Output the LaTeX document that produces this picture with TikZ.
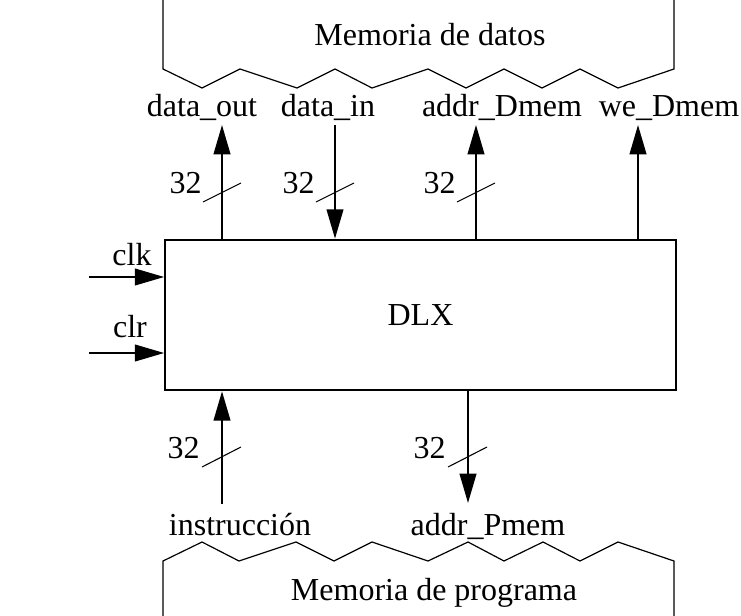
\documentclass[tikz,border=0pt]{standalone}
\usepackage{fontspec}
\setmainfont{Liberation Serif}
\usetikzlibrary{arrows.meta}

\begin{document}
\begin{tikzpicture}[x=0.75pt,y=-0.75pt,>={Triangle[length=22pt,width=12.5pt]},font=\fontsize{24}{28}\selectfont]
		\tikzstyle{wire}=[->,line width=1.5pt]
		\tikzstyle{busmark}=[line width=0.8pt]
		\tikzstyle{memline}=[line width=0.9pt,line join=miter]
		\tikzstyle{sigtext}=[inner sep=0pt,anchor=base]
		\tikzstyle{buswidth}=[inner sep=0pt,anchor=base east]
		
		\useasboundingbox (0,0) rectangle (741,616);
		
		% Draw the processor
		\node[draw,line width=1.5pt,minimum width=383pt,minimum height=113pt,inner sep=0pt] (dlx) at (420.5,315) {DLX};
		
		% Draw the data memory
		\draw[memline] (163,0) -- (163,69)
		\foreach \x/\y in {202/88,240/69,297/88,335/69,372/88,428/69,466/88,504/69,542/88,580/69,618/88} { -- (\x,\y) }
		-- (674,69) -- (674,0);
		\node[sigtext] (dmem) at (430,46) {Memoria de datos};
		
		% Draw the program memory
		\draw[memline] (163,616) -- (163,561)
		\foreach \x/\y in {202/542,239/561,296/542,334/561,372/542,428/561,468/542,504/561,543/542,580/561,618/542} { -- (\x,\y) }
		-- (674,561) -- (674,616);
		\node[sigtext] (pmem) at (434,600) {Memoria de programa};
		
		% Data memory signals
		\foreach \name/\txt/\x in {dout/data\_out/202,din/data\_in/328,adm/addr\_Dmem/502,we/we\_Dmem/669}
		\node[sigtext] (\name) at (\x,117) {\txt};
		\foreach \name/\x in {dout/222,din/335,adm/476,we/638}
		\coordinate (\name-p) at (\x,125);
		
		\draw[wire] (dlx.north -| dout-p) -- (dout-p);
		\draw[wire] (din-p) -- (dlx.north -| din-p);
		\draw[wire] (dlx.north -| adm-p) -- (adm-p);
		\draw[wire] (dlx.north -| we-p) -- (we-p);
		
		% Program memory signals
		\node[sigtext] (ins) at (240,535) {instrucción};
		\node[sigtext] (apm) at (488,535) {addr\_Pmem};
		\coordinate (ins-p) at (222,504);
		\coordinate (apm-p) at (468,503);
		
		\draw[wire] (ins-p) -- (dlx.south -| ins-p);
		\draw[wire] (dlx.south -| apm-p) -- (apm-p);
		
		% Clock and clear
		\node[sigtext] (clk) at (132,266) {clk};
		\node[sigtext] (clr) at (130,337) {clr};
		\coordinate (clk-p) at (89,277);
		\coordinate (clr-p) at (89,353);
		\draw[wire] (clk-p) -- (clk-p -| dlx.west);
		\draw[wire] (clr-p) -- (clr-p -| dlx.west);
		
		% Bus widths
		\foreach \x in {222,335,476} {
			\draw[busmark] (\x-19,202) -- (\x+19,183);
			\node[buswidth] (w-\x) at (\x-20,194) {32};
		}
		\foreach \x in {222,468} {
			\draw[busmark] (\x-20,467) -- (\x+19,447);
			\node[buswidth] (v-\x) at (\x-22,458) {32};
		}
	
	\end{tikzpicture}
\end{document}
